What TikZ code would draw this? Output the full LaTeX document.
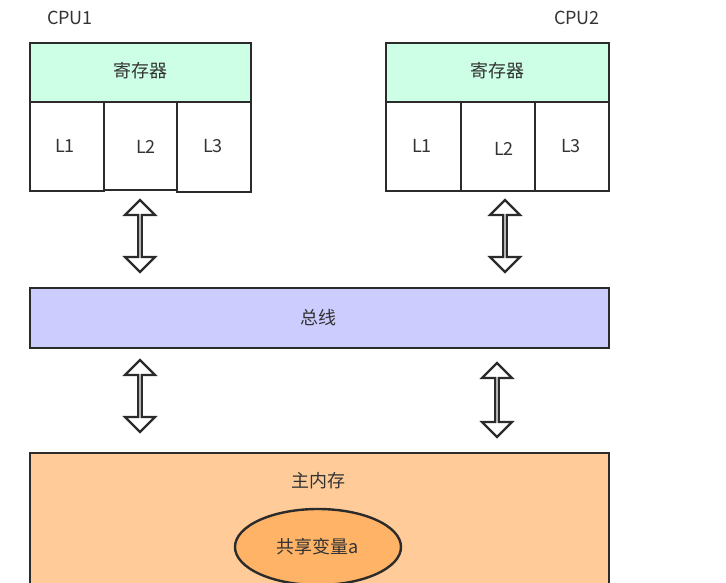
\documentclass[tikz,border=0pt]{standalone}
\usepackage{fontspec}
\setmainfont{Noto Sans CJK SC}
\usetikzlibrary{shapes.geometric,shapes.arrows}
\definecolor{regfill}{HTML}{CCFFE6}
\definecolor{busfill}{HTML}{CCCCFF}
\definecolor{memfill}{HTML}{FFCC99}
\definecolor{varfill}{HTML}{FFB366}
\definecolor{edge}{HTML}{2B2B2B}
\definecolor{txt}{HTML}{333333}
\begin{document}
\begin{tikzpicture}[x=1pt,y=-1pt,
  font=\fontsize{18}{21}\selectfont, text=txt,
  box/.style={draw=edge,line width=2.4pt,inner sep=0pt,anchor=north west},
  lbl/.style={inner sep=0pt},
  dblarrow/.style={double arrow,draw=edge,fill=white,line width=2.2pt,rotate=90,
    minimum height=72pt,minimum width=30pt,double arrow head extend=8pt,inner sep=0pt}]
\useasboundingbox (0,0) rectangle (726,583);
\clip (0,0) rectangle (726,583);
% CPU1
\node[lbl] (cpu1) at (70,18) {CPU1};
\node[box,fill=regfill,minimum width=221pt,minimum height=59pt] (r1) at (29,42) {};
\node[lbl] (r1t) at (140,71) {寄存器};
\node[box,fill=white,minimum width=74pt,minimum height=89pt] (c11) at (29,101) {};
\node[box,fill=white,minimum width=73pt,minimum height=88pt] (c12) at (103,101) {};
\node[box,fill=white,minimum width=74pt,minimum height=90pt] (c13) at (176,101) {};
\node[lbl] at (65,146) {L1};
\node[lbl] at (146,147) {L2};
\node[lbl] at (213,146) {L3};
% CPU2
\node[lbl] (cpu2) at (577,18) {CPU2};
\node[box,fill=regfill,minimum width=223pt,minimum height=59pt] (r2) at (385,42) {};
\node[lbl] (r2t) at (497,71) {寄存器};
\node[box,fill=white,minimum width=75pt,minimum height=89pt] (c21) at (385,101) {};
\node[box,fill=white,minimum width=74pt,minimum height=89pt] (c22) at (460,101) {};
\node[box,fill=white,minimum width=74pt,minimum height=89pt] (c23) at (534,101) {};
\node[lbl] at (422,146) {L1};
\node[lbl] at (504,149) {L2};
\node[lbl] at (571,146) {L3};
% arrows
\node[dblarrow] (a1) at (140,236) {};
\node[dblarrow] (a2) at (505,236) {};
% bus
\node[box,fill=busfill,minimum width=579pt,minimum height=60pt] (bus) at (29,287) {};
\node[lbl] (bust) at (318,318) {总线};
\node[dblarrow] (a3) at (140,396) {};
\node[dblarrow,minimum height=74pt] (a4) at (497,400) {};
% memory
\node[box,fill=memfill,minimum width=579pt,minimum height=160pt] (mem) at (29,452) {};
\node[lbl] (memt) at (318,481) {主内存};
\node[ellipse,draw=edge,fill=varfill,line width=2.4pt,minimum width=166pt,minimum height=76pt,inner sep=0pt] (var) at (318,547) {共享变量a};
\end{tikzpicture}
\end{document}
